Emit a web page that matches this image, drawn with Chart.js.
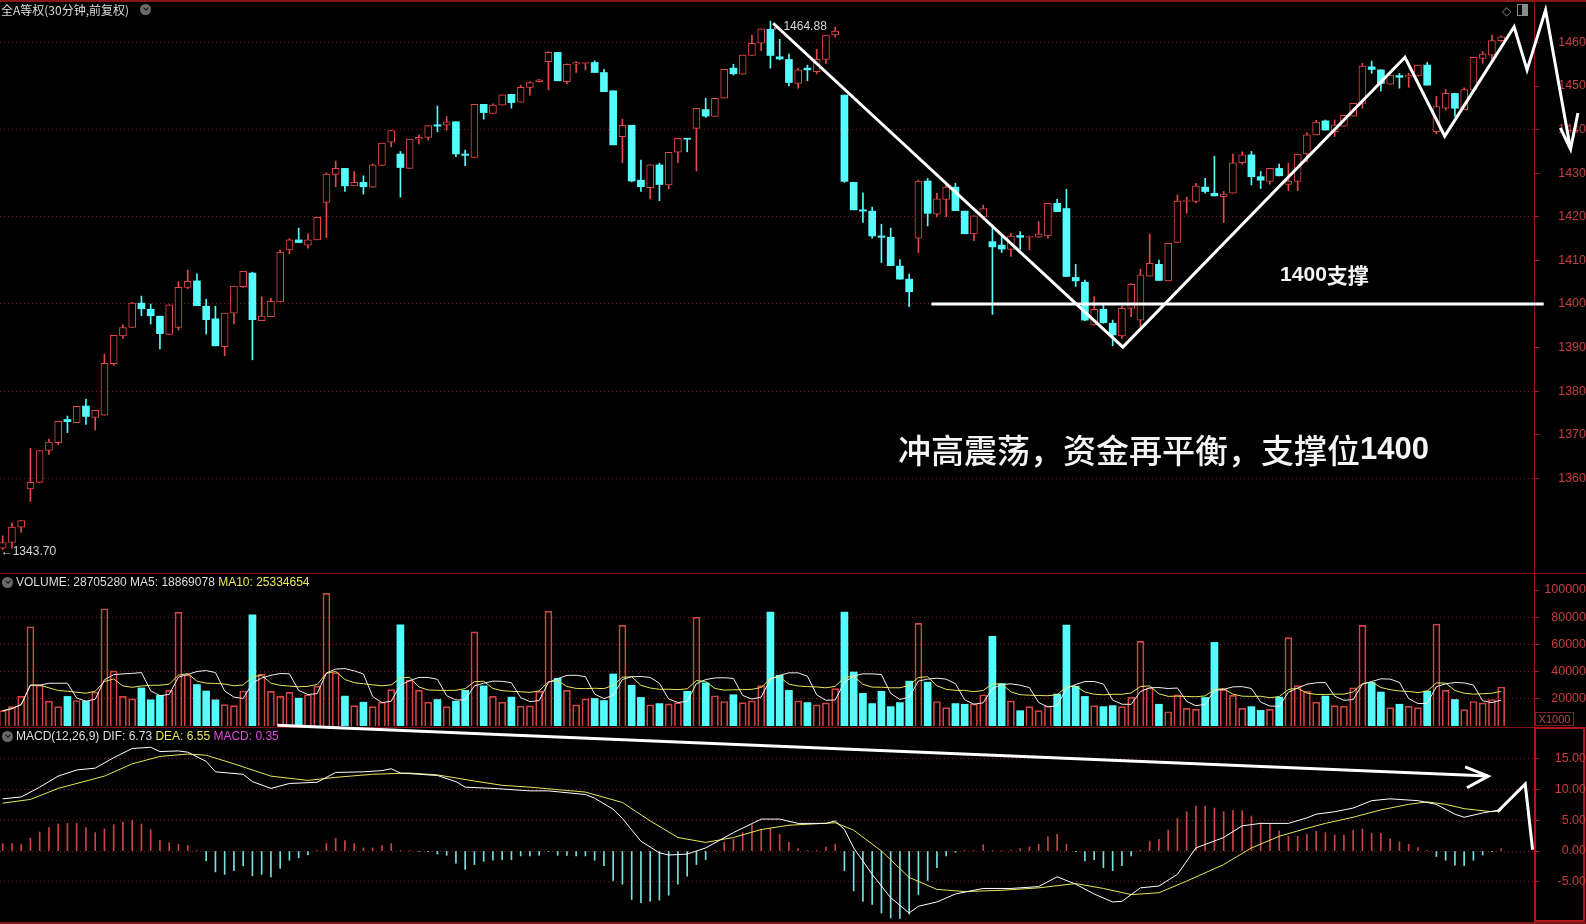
<!DOCTYPE html>
<html>
<head>
<meta charset="utf-8">
<title>全A等权 30分钟</title>
<script src="https://cdn.jsdelivr.net/npm/chart.js@4.4.1/dist/chart.umd.min.js"></script>
<style>
html, body { margin: 0; padding: 0; background: #000; }
#stage { position: relative; width: 1586px; height: 924px; background: #000; overflow: hidden; }
#stage canvas { position: absolute; left: 0; }
.hline { position: absolute; left: 0; width: 1586px; height: 1px; background: #7c1414; }
.vline { position: absolute; top: 0; left: 1534px; width: 1px; height: 924px; background: #8e1a1a; }
.head { position: absolute; left: 16px; font: 12px "Liberation Sans", "DejaVu Sans", sans-serif; color: #dedede; white-space: nowrap; line-height: 14px; }
.title { position: absolute; left: 1px; top: 3px; font: 12px "Noto Sans CJK SC", sans-serif; color: #dcdcdc; line-height: 14px; white-space: nowrap; }
.dot { position: absolute; width: 11px; height: 11px; border-radius: 50%; background: #6a6a6a; }
.dot::after { content: ''; position: absolute; left: 3.5px; top: 2px; width: 3px; height: 3px; border-right: 1.5px solid #111; border-bottom: 1.5px solid #111; transform: rotate(45deg); }
.yel { color: #e8e85a; }
.mag { color: #e048e0; }
#axisBox { position: absolute; left: 1534px; top: 727px; width: 51px; height: 195px; border: 2px solid #b3161a; box-sizing: border-box; }
#x1000 { position: absolute; left: 1535px; top: 712px; width: 39px; height: 14px; border: 1px solid #7a2222; box-sizing: border-box; font: 11px "Liberation Sans", sans-serif; color: #b04a4a; line-height: 12px; text-align: center; }
#icons { position: absolute; left: 1502px; top: 4px; font: 12px "DejaVu Sans", sans-serif; color: #8a8a8a; }
#icons span.box { display: inline-block; width: 9px; height: 10px; border: 1px solid #8a8a8a; margin-left: 6px; vertical-align: -1px; background: linear-gradient(90deg, transparent 50%, #8a8a8a 50%); }
</style>
</head>
<body>
<div id="stage">
  <div class="hline" style="top:0;height:2px;background:#8a1515"></div>
  <div class="hline" style="top:573px"></div>
  <div class="hline" style="top:727px"></div>
  <div class="hline" style="top:922px;height:2px"></div>
  <div class="vline"></div>
  <div id="axisBox"></div>

  <canvas id="priceChart" width="1586" height="573" style="top:0"></canvas>
  <canvas id="volChart" width="1586" height="154" style="top:573px"></canvas>
  <canvas id="macdChart" width="1586" height="206" style="top:718px"></canvas>

  <div class="title">全A等权(30分钟,前复权)</div>
  <div class="dot" style="left:140px;top:4px"></div>
  <div id="icons">◇<span class="box"></span></div>

  <div class="dot" style="left:2px;top:577px"></div>
  <div class="head" style="top:575px">VOLUME: 28705280 MA5: 18869078 <span class="yel">MA10: 25334654</span></div>
  <div id="x1000">X1000</div>

  <div class="dot" style="left:2px;top:731px"></div>
  <div class="head" style="top:729px">MACD(12,26,9) DIF: 6.73 <span class="yel">DEA: 6.55</span> <span class="mag">MACD: 0.35</span></div>
</div>

<script>
// 30-minute bars, left to right
const open = [1344.0,1345.3,1348.8,1357.6,1359.1,1366.4,1368.2,1373.5,1372.8,1376.6,
  1374.0,1374.5,1386.3,1392.7,1394.6,1400.2,1398.8,1397.2,1393.0,1394.6,
  1403.8,1405.3,1399.5,1396.6,1390.2,1397.9,1404.0,1407.1,1396.2,1397.1,
  1400.5,1412.4,1414.7,1413.5,1414.7,1423.3,1429.7,1431.1,1427.1,1427.9,
  1426.8,1431.8,1437.1,1434.4,1431.1,1437.8,1438.2,1441.1,1441.0,1441.8,
  1434.4,1433.6,1445.8,1443.7,1445.6,1448.1,1446.3,1449.7,1451.0,1455.6,
  1457.7,1451.0,1455.0,1455.2,1455.4,1453.1,1448.9,1438.4,1441.0,1428.4,
  1426.7,1431.9,1427.3,1434.8,1438.0,1440.3,1444.6,1443.0,1447.2,1454.1,
  1452.7,1457.0,1459.8,1463.0,1456.7,1456.1,1450.6,1454.1,1453.3,1456.1,
  1461.7,1447.9,1427.9,1421.6,1421.3,1415.6,1415.3,1408.7,1405.7,1415.1,
  1428.2,1420.6,1424.0,1426.8,1421.3,1416.1,1420.0,1414.3,1413.5,1412.5,
  1415.7,1415.3,1415.3,1415.6,1423.1,1421.9,1406.1,1405.0,1395.2,1398.8,
  1395.6,1392.7,1399.0,1396.3,1406.4,1409.1,1405.3,1414.1,1423.5,1423.5,
  1426.8,1425.4,1424.6,1425.4,1432.4,1434.2,1429.2,1428.1,1431.1,1427.4,
  1428.1,1434.4,1438.8,1442.0,1439.5,1440.8,1443.1,1446.0,1454.4,1453.7,
  1450.4,1452.4,1452.0,1452.3,1454.8,1439.5,1444.9,1448.3,1444.6,1449.1,
  1456.3,1457.1,1460.4];
const high = [1346.8,1349.8,1350.3,1366.9,1366.4,1369.0,1373.1,1374.3,1376.5,1378.2,
  1375.6,1388.5,1392.8,1395.3,1400.4,1401.8,1400.0,1397.2,1399.8,1405.1,
  1407.8,1406.9,1401.1,1399.5,1397.9,1404.1,1407.5,1407.3,1401.7,1401.3,
  1412.4,1415.0,1417.4,1416.1,1419.9,1430.1,1432.8,1431.1,1430.4,1429.4,
  1432.1,1436.9,1439.8,1435.0,1437.8,1438.8,1440.9,1445.4,1443.0,1441.8,
  1435.3,1445.8,1445.8,1445.9,1448.0,1448.1,1450.2,1451.0,1451.5,1457.9,
  1457.7,1455.1,1455.6,1455.4,1455.8,1453.8,1448.9,1442.4,1441.0,1433.0,
  1431.9,1432.3,1434.8,1438.0,1438.0,1444.9,1447.2,1447.2,1453.8,1455.0,
  1457.1,1461.7,1463.1,1464.88,1460.7,1457.3,1454.1,1454.8,1458.4,1461.7,
  1463.5,1447.9,1427.9,1425.5,1422.2,1418.3,1417.4,1410.2,1406.9,1428.4,
  1428.8,1425.4,1427.7,1427.7,1421.3,1420.2,1422.7,1417.5,1415.6,1416.2,
  1416.6,1415.6,1418.9,1423.1,1424.0,1426.3,1409.1,1405.5,1401.7,1399.8,
  1396.3,1399.5,1404.7,1408.0,1416.1,1410.1,1413.9,1425.0,1424.5,1427.7,
  1428.8,1433.9,1425.8,1434.4,1434.9,1435.0,1430.4,1431.1,1432.1,1432.3,
  1434.4,1439.3,1442.1,1442.2,1442.2,1443.3,1446.0,1455.2,1455.7,1453.7,
  1452.5,1452.9,1452.9,1454.8,1455.4,1447.6,1449.2,1448.3,1449.6,1456.6,
  1457.9,1461.7,1461.5];
const low = [1343.7,1344.0,1347.6,1354.7,1359.1,1365.5,1367.7,1370.5,1372.8,1372.4,
  1371.1,1374.5,1385.9,1392.1,1394.6,1397.3,1395.4,1389.7,1393.0,1394.0,
  1403.5,1399.6,1393.1,1390.4,1388.1,1395.4,1403.8,1387.2,1396.2,1397.1,
  1400.5,1411.5,1414.1,1412.8,1414.7,1415.2,1426.9,1425.8,1427.1,1425.2,
  1426.8,1431.8,1436.1,1424.5,1431.1,1436.7,1437.6,1439.5,1439.9,1433.8,
  1431.7,1433.6,1442.4,1443.7,1445.6,1444.9,1446.3,1447.9,1450.9,1449.1,
  1451.2,1450.5,1453.1,1453.7,1453.1,1448.7,1436.5,1432.4,1428.0,1425.8,
  1424.1,1423.7,1426.4,1432.4,1434.9,1430.5,1442.8,1443.0,1447.2,1452.5,
  1452.7,1457.0,1458.1,1454.1,1456.0,1450.0,1449.5,1451.2,1452.8,1455.2,
  1461.2,1427.9,1421.6,1418.7,1415.1,1409.5,1408.8,1405.7,1399.4,1411.8,
  1417.9,1420.0,1420.0,1421.4,1416.1,1414.5,1420.0,1397.6,1411.8,1410.9,
  1412.5,1412.4,1415.3,1415.1,1421.2,1406.3,1404.0,1396.2,1395.2,1395.6,
  1390.4,1392.1,1397.1,1394.8,1406.4,1405.4,1405.3,1414.1,1420.8,1423.2,
  1425.4,1424.8,1418.7,1425.4,1432.1,1427.3,1426.5,1427.5,1429.4,1426.0,
  1426.0,1432.6,1438.8,1439.9,1438.4,1440.8,1443.1,1444.9,1452.9,1448.9,
  1450.4,1449.5,1449.7,1452.3,1450.2,1439.0,1444.5,1443.0,1444.6,1449.1,
  1455.2,1456.1,1460.2];
const close = [1345.3,1348.8,1350.3,1359.1,1366.4,1368.3,1373.1,1373.0,1376.5,1374.2,
  1375.6,1386.4,1392.8,1394.6,1400.2,1398.9,1397.3,1393.2,1399.8,1403.8,
  1405.2,1399.6,1396.4,1390.4,1397.9,1404.1,1407.5,1396.4,1397.2,1400.6,
  1411.9,1414.7,1414.1,1414.7,1419.9,1429.8,1431.1,1427.1,1427.9,1426.9,
  1431.9,1436.9,1439.8,1431.3,1437.8,1438.2,1440.9,1440.8,1441.8,1434.4,
  1434.1,1445.8,1443.9,1445.6,1448.0,1446.2,1449.7,1450.8,1451.4,1457.7,
  1451.2,1455.0,1455.4,1455.4,1453.1,1448.7,1436.5,1441.0,1428.2,1426.9,
  1431.9,1427.4,1434.8,1438.0,1437.8,1444.9,1443.1,1447.2,1453.8,1452.8,
  1457.1,1459.8,1463.1,1457.0,1456.2,1450.8,1453.7,1453.7,1456.1,1461.7,
  1462.6,1428.1,1421.6,1421.3,1415.6,1415.3,1408.8,1405.7,1402.8,1428.2,
  1420.8,1424.1,1426.8,1421.4,1416.1,1420.2,1421.9,1413.1,1412.6,1415.6,
  1415.3,1415.4,1416.1,1423.1,1421.2,1406.3,1405.3,1396.3,1398.8,1395.7,
  1392.9,1399.0,1404.5,1406.7,1409.3,1405.4,1413.9,1423.6,1423.7,1427.1,
  1425.8,1424.8,1425.2,1432.4,1434.2,1429.2,1428.4,1431.1,1429.4,1428.2,
  1434.4,1438.8,1441.7,1439.9,1441.1,1443.3,1446.0,1454.6,1453.8,1450.6,
  1452.5,1452.0,1452.4,1454.8,1450.2,1445.3,1448.3,1444.9,1449.2,1456.6,
  1457.3,1460.4,1461.3];

// volume in thousands (axis shows X1000)
const volume = [11250,14250,21750,73000,30000,18250,14250,21750,18750,18250,
  25000,86250,40500,21750,20000,28000,19250,22500,26250,83750,
  37500,30500,25750,19250,15750,15000,25750,81750,38250,25500,
  21750,24750,20500,23000,29250,97500,39250,22000,15000,17500,
  14250,17500,26750,74500,33750,26250,17500,19500,14250,18250,
  26250,69250,29500,21750,17500,21250,14500,14750,25500,84500,
  35000,26250,15500,20000,20250,18750,38250,74000,30000,21000,
  15500,16500,16250,17250,25500,80000,31750,22250,18000,23000,
  17250,18500,29750,83750,37250,26250,18500,17250,15500,17000,
  27500,83750,39750,24000,16500,25500,14250,17250,33000,75500,
  32250,18000,13500,16500,16000,16250,23000,66000,31250,18500,
  11250,14250,11250,14750,23500,74250,29250,21750,15000,14250,
  15000,14250,21000,62250,28000,16000,10500,23000,13000,12250,
  21000,61500,26750,22500,13000,14250,11500,12250,21250,65000,
  29750,25500,17500,22000,15000,14500,28000,74000,32000,25000,
  13500,16000,14500,13500,25750,75000,26250,19500,12000,18000,
  17000,19500,28705];

// MACD histogram, one per bar
const macdBar = [1.2,1.2,1.1,2.1,3.1,3.8,4.4,4.5,4.5,3.8,
  3.0,3.6,4.3,4.7,5.0,4.4,3.5,1.8,1.35,1.1,
  0.9,0.1,-1.6,-3.4,-3.8,-3.2,-2.4,-4.05,-3.8,-4.2,
  -2.8,-1.5,-1.1,-0.65,0.05,1.2,2.05,1.7,1.2,0.5,
  0.5,0.9,1.2,0.05,0.05,-0.1,-0.1,-0.5,-0.7,-2.0,
  -3.0,-2.2,-1.7,-1.5,-1.4,-1.4,-0.8,-0.8,-0.7,-0.1,
  -0.7,-0.7,-0.8,-0.8,-1.5,-2.4,-4.8,-5.4,-7.9,-8.4,
  -8.2,-8.0,-7.2,-5.4,-4.1,-2.2,-1.4,0.1,1.4,1.9,
  3.0,4.3,3.5,3.7,2.7,1.4,0.4,0.1,0.1,0.65,
  1.1,-3.2,-6.5,-8.2,-8.7,-10.1,-10.9,-11.0,-10.3,-7.1,
  -4.8,-2.7,-0.8,-0.2,0.05,0.1,1.0,0.1,0.1,0.15,
  0.4,0.65,1.1,2.3,2.7,1.1,-0.05,-1.6,-1.4,-2.7,
  -3.2,-2.4,-0.8,0.1,1.6,1.9,3.4,5.3,6.4,7.3,
  7.3,7.0,6.4,6.6,6.6,5.7,4.6,4.3,3.3,2.4,
  2.4,2.7,3.2,3.0,2.6,2.6,3.35,3.6,2.9,2.9,
  2.0,1.5,1.1,0.55,0.05,-0.9,-1.5,-2.3,-2.4,-1.5,
  -0.65,-0.05,0.35];

// DIF / DEA read at [bar index, value]
const difPoints = [[0,8.5],[2,8.8],[4,10.4],[6,12.2],[8,13.2],[10,13.5],[12,15.2],[14,16.7],[16,16.9],[17,16.2],
  [19,16.3],[20,16.1],[22,14.6],[23,12.9],[26,12.5],[27,11.3],[29,10.2],[31,11.0],[34,11.2],[36,12.8],
  [39,12.9],[41,13.1],[42,13.4],[43,12.7],[47,12.3],[49,11.3],[50,10.4],[53,10.2],[57,9.8],[59,9.8],
  [63,9.2],[64,8.6],[66,6.8],[67,5.3],[69,1.6],[71,-0.3],[72,-0.65],[74,-0.5],[76,0.5],[79,3.0],
  [82,5.2],[84,5.2],[86,4.5],[89,4.5],[90,4.9],[91,3.5],[92,0.5],[94,-3.8],[96,-7.6],[98,-10.1],
  [99,-9.0],[101,-8.3],[103,-7.0],[106,-6.1],[109,-6.1],[112,-5.8],[114,-4.2],[116,-5.4],[118,-7.0],[120,-8.3],
  [121,-8.2],[123,-6.0],[125,-5.7],[127,-3.8],[129,0.5],[132,2.2],[134,4.1],[136,4.5],[139,4.5],[141,5.4],
  [142,6.0],[144,6.4],[146,7.0],[148,8.2],[150,8.5],[153,8.2],[155,7.6],[157,6.0],[158,5.5],[160,6.2],[162,6.73]];
const deaPoints = [[0,7.8],[3,8.4],[6,10.2],[11,12.2],[14,14.2],[17,15.4],[20,15.8],[22,15.6],[25,14.2],[29,12.2],
  [33,11.5],[36,12.0],[40,12.5],[44,12.7],[47,12.4],[51,11.4],[54,10.7],[57,10.4],[63,9.6],[67,7.9],
  [70,4.9],[73,2.2],[76,1.4],[79,2.2],[82,3.5],[85,4.2],[90,4.6],[92,3.4],[95,0],[98,-4.3],
  [101,-6.25],[104,-6.6],[108,-6.4],[112,-6.0],[116,-5.3],[119,-6.1],[122,-7.1],[125,-6.8],[128,-4.9],[132,-2.2],
  [135,0.5],[138,2.4],[141,3.7],[143,4.5],[146,5.5],[149,6.7],[152,7.6],[154,8.0],[156,7.6],[158,6.9],
  [161,6.4],[162,6.55]];

const priceTicks = [1360, 1370, 1380, 1390, 1400, 1410, 1420, 1430, 1440, 1450, 1460];
const volTicks = [20000, 40000, 60000, 80000, 100000];
const macdTicks = [-5, 0, 5, 10, 15];

// hand-drawn marks, in [bar index, value]
const trendLine = [[83.3,1464.4],[121.1,1390.1],[151.6,1456.6],[155.9,1438.5],[163.4,1463.6],[164.8,1453.7],[166.8,1467.4],[169.5,1435.5]];
const trendArrow = [[168.4,1440.4],[169.5,1435.5],[170.3,1443.8]];
const supportLine = [[100.4,1400],[166.6,1400]];
const macdArrow = [[29.7,20.5],[160.6,12.2]];
const macdArrowHead = [[158.1,13.7],[160.6,12.2],[158.3,10.3]];
const macdZig = [[161.6,6.4],[164.6,10.9],[165.4,0.2]];

const RED = '#e24848', VRED = '#d04444', CYAN = '#54fcfc', HCYAN = '#78dede', HRED = '#c84444';
const GRID = '#7e2020', AXIS = '#9e2020', LABEL = '#c83e3e';
const X_MIN = -0.29, X_MAX = 165.55;

const idx = close.map((_, i) => i);
const isUp = i => close[i] >= open[i];

function movingAvg(arr, n) {
  return arr.map((_, i) => {
    const part = arr.slice(Math.max(0, i - n + 1), i + 1);
    return part.reduce((a, b) => a + b, 0) / part.length;
  });
}
const ma5 = movingAvg(volume, 5);
const ma10 = movingAvg(volume, 10);

function rightAxis(min, max, ticks, fmt, gridOn, pad) {
  return {
    position: 'right', min: min, max: max,
    afterFit: s => { s.width = 52; s.paddingTop = 0; s.paddingBottom = 0; },
    afterBuildTicks: s => { s.ticks = ticks.map(v => ({ value: v })); },
    grid: {
      color: c => (c.tick && gridOn(c.tick.value)) ? GRID : 'rgba(0,0,0,0)',
      tickColor: AXIS, tickLength: 5, lineWidth: 1
    },
    border: { display: false, dash: [1, 3] },
    ticks: { color: LABEL, font: { family: 'Liberation Sans', size: 12.5 }, padding: pad, crossAlign: 'far', callback: fmt }
  };
}

function baseOptions(yAxis, top, bottom) {
  return {
    responsive: false, animation: false, events: [],
    layout: { padding: { top: top, bottom: bottom, left: 0, right: 0 } },
    plugins: { legend: { display: false }, tooltip: { enabled: false } },
    scales: {
      x: { type: 'linear', min: X_MIN, max: X_MAX, offset: false, display: false },
      y: yAxis
    }
  };
}

// draws the white strokes and texts on top of the datasets
function marks(strokes, labels) {
  return {
    id: 'marks',
    afterDatasetsDraw(chart) {
      const { ctx } = chart;
      const xs = chart.scales.x, ys = chart.scales.y;
      ctx.save();
      ctx.strokeStyle = '#ffffff';
      ctx.lineJoin = 'miter';
      strokes.forEach(s => {
        ctx.lineWidth = s.width;
        ctx.beginPath();
        s.pts.forEach((p, k) => {
          const px = xs.getPixelForValue(p[0]), py = ys.getPixelForValue(p[1]);
          if (k) ctx.lineTo(px, py); else ctx.moveTo(px, py);
        });
        ctx.stroke();
      });
      labels.forEach(t => {
        let px = xs.getPixelForValue(t.at[0]) + (t.dx || 0);
        const py = ys.getPixelForValue(t.at[1]) + (t.dy || 0);
        ctx.fillStyle = t.color;
        ctx.textBaseline = 'middle';
        ctx.textAlign = 'left';
        t.runs.forEach(r => {
          ctx.font = r.font;
          ctx.fillText(r.text, px, py);
          px += ctx.measureText(r.text).width;
        });
      });
      ctx.restore();
    }
  };
}

const lowIdx = low.indexOf(Math.min(...low));
const highIdx = high.indexOf(Math.max(...high));

new Chart(document.getElementById('priceChart'), {
  type: 'bar',
  data: {
    datasets: [
      {
        label: 'wick',
        data: idx.map(i => ({ x: i, y: [low[i], high[i]] })),
        backgroundColor: idx.map(i => isUp(i) ? RED : CYAN),
        barThickness: 1, grouped: false, order: 2
      },
      {
        label: 'body',
        data: idx.map(i => ({ x: i, y: [open[i], close[i]] })),
        backgroundColor: idx.map(i => isUp(i) ? '#000' : CYAN),
        borderColor: idx.map(i => isUp(i) ? RED : CYAN),
        borderWidth: idx.map(i => isUp(i) ? 1 : 0),
        borderSkipped: false, barThickness: 7, minBarLength: 1, grouped: false, order: 1
      }
    ]
  },
  options: baseOptions(rightAxis(1339.9, 1469.27, priceTicks, v => String(v), v => v % 20 === 0, 13), 2, 7),
  plugins: [marks(
    [{ pts: trendLine, width: 3 }, { pts: trendArrow, width: 3 }, { pts: supportLine, width: 3 }],
    [
      { at: [lowIdx, low[lowIdx]], dx: -2, dy: 2, color: '#d8d8d8', runs: [{ text: '\u2190' + low[lowIdx].toFixed(2), font: '12px "Liberation Sans", "DejaVu Sans"' }] },
      { at: [highIdx, high[highIdx]], dx: 1, dy: 6, color: '#d8d8d8', runs: [{ text: '\u2190' + high[highIdx].toFixed(2), font: '12px "Liberation Sans", "DejaVu Sans"' }] },
      { at: [138.1, 1406.7], color: '#f4f4f4', runs: [
        { text: '1400', font: 'bold 21px "Liberation Sans"' },
        { text: '支撑', font: 'bold 21px "Noto Sans CJK SC"' }] },
      { at: [96.8, 1366.3], color: '#f4f4f4', runs: [
        { text: '冲高震荡，资金再平衡，支撑位', font: '500 33px "Noto Sans CJK SC"' },
        { text: '1400', font: 'bold 31px "Liberation Sans"' }] }
    ]
  )]
});

new Chart(document.getElementById('volChart'), {
  type: 'bar',
  data: {
    datasets: [
      {
        label: 'VOLUME',
        data: idx.map(i => ({ x: i, y: volume[i] })),
        backgroundColor: idx.map(i => isUp(i) ? 'rgba(0,0,0,0)' : CYAN),
        borderColor: idx.map(i => isUp(i) ? VRED : CYAN),
        borderWidth: idx.map(i => isUp(i) ? 1 : 0),
        barThickness: 7, grouped: false, order: 2
      },
      {
        type: 'line', label: 'MA5',
        data: idx.map(i => ({ x: i, y: ma5[i] })),
        borderColor: '#eeeeee', borderWidth: 1, pointRadius: 0, tension: 0, order: 1
      },
      {
        type: 'line', label: 'MA10',
        data: idx.map(i => ({ x: i, y: ma10[i] })),
        borderColor: '#e6e65a', borderWidth: 1, pointRadius: 0, tension: 0, order: 1
      }
    ]
  },
  options: baseOptions(rightAxis(0, 111800, volTicks, v => String(v), v => v < 100000, 0), 1, 1)
});

new Chart(document.getElementById('macdChart'), {
  type: 'bar',
  data: {
    datasets: [
      {
        label: 'MACD',
        data: idx.map(i => ({ x: i, y: macdBar[i] })),
        backgroundColor: idx.map(i => macdBar[i] >= 0 ? HRED : HCYAN),
        barThickness: 1, grouped: false, order: 3
      },
      {
        type: 'line', label: 'DIF',
        data: difPoints.map(p => ({ x: p[0], y: p[1] })),
        borderColor: '#ffffff', borderWidth: 1, pointRadius: 0, tension: 0, order: 1
      },
      {
        type: 'line', label: 'DEA',
        data: deaPoints.map(p => ({ x: p[0], y: p[1] })),
        borderColor: '#e6e65a', borderWidth: 1, pointRadius: 0, tension: 0, order: 2
      }
    ]
  },
  options: baseOptions(rightAxis(-11.4, 20.2, macdTicks, v => v.toFixed(2), () => true, 10), 9, 3),
  plugins: [marks(
    [{ pts: macdArrow, width: 3 }, { pts: macdArrowHead, width: 3 }, { pts: macdZig, width: 3 }],
    []
  )]
});
</script>
</body>
</html>
